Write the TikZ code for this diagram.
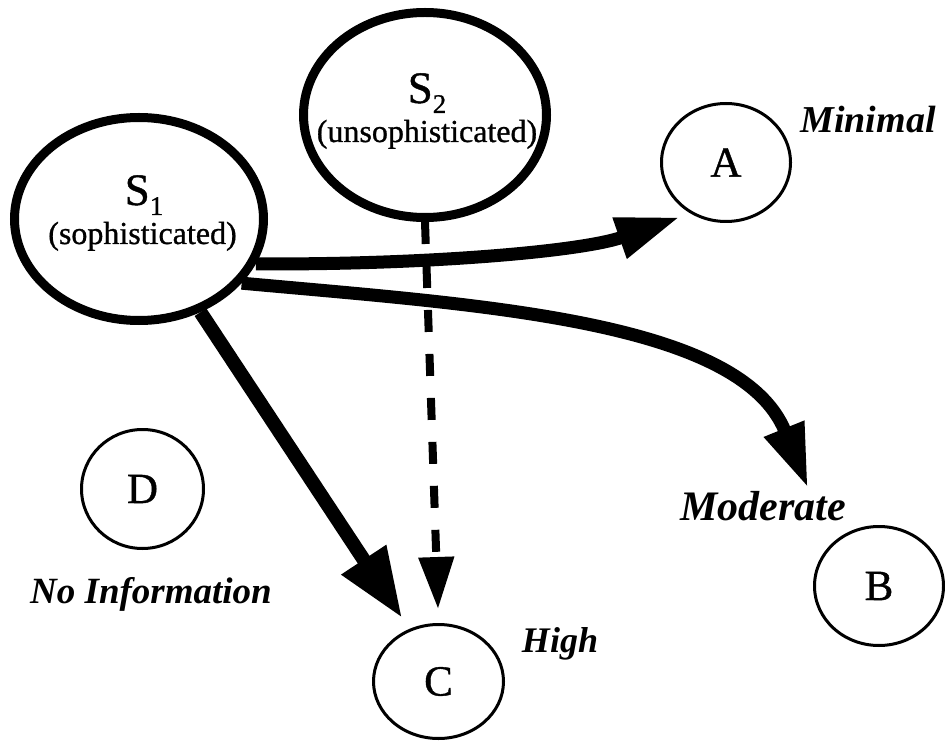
\documentclass[tikz,border=0pt]{standalone}
\usepackage{fontspec}
\setmainfont{Liberation Serif}
\newfontfamily\heavyserif[FakeBold=0.9]{Liberation Serif}
\usetikzlibrary{arrows.meta,shapes.geometric}
\begin{document}
\begin{tikzpicture}[x=1pt,y=-1pt,
  bigell/.style={draw,ellipse,line width=9pt,inner sep=0pt},
  smallell/.style={draw,ellipse,line width=3pt,inner sep=0pt,font=\heavyserif\fontsize{43}{43}\selectfont},
  txt/.style={anchor=base,inner sep=0pt,font=\heavyserif\fontsize{#1}{#1}\selectfont},
  lab/.style={anchor=base,inner sep=0pt,font=\fontsize{#1}{#1}\selectfont\bfseries\itshape},
  thickarrow/.style={line width=13pt,-{Triangle[length=64pt,width=40pt]}},
  heavyarrow/.style={line width=14pt,-{Triangle[length=70pt,width=50pt]}},
  dasharrow/.style={line width=8pt,dash pattern=on 22pt off 22pt,-{Triangle[length=52pt,width=34pt]}}
]
\useasboundingbox (0,0) rectangle (945,743);

% main ellipses
\node[bigell,minimum width=249pt,minimum height=203pt] (S1) at (139,219) {};
\node[bigell,minimum width=243pt,minimum height=205pt] (S2) at (425,115) {};

\node[txt=45] (S1a) at (144,205) {S\raisebox{-10pt}{\fontsize{27}{27}\selectfont 1}};
\node[txt=32] (S1b) at (142.5,244) {(sophisticated)};
\node[txt=45] (S2a) at (427,103) {S\raisebox{-10pt}{\fontsize{27}{27}\selectfont 2}};
\node[txt=32] (S2b) at (427,142) {(unsophisticated)};

% outcome circles
\node[smallell,minimum width=129pt,minimum height=118pt] (A) at (726,162.5) {A};
\node[smallell,minimum width=129pt,minimum height=119pt] (B) at (879,586) {B};
\node[smallell,minimum width=130pt,minimum height=114pt] (C) at (438.5,681.5) {C};
\node[smallell,minimum width=122pt,minimum height=119pt] (D) at (142.5,489) {D};

% labels
\node[lab=38] (minimal) at (868,133) {Minimal};
\node[lab=42] (moderate) at (763,520) {Moderate};
\node[lab=37] (noinfo) at (151,603) {No Information};
\node[lab=36] (high) at (560,652) {High};

% connectors
\coordinate (tipB) at (808,488);
\draw[thickarrow,shorten >=11pt] (S1.-21) .. controls (420,265) and (580,252) .. (A.-125);
\draw[thickarrow] (S1.-32) .. controls (480,305) and (740,320) .. (tipB);
\draw[heavyarrow,shorten >=13pt] (S1) -- (C.119);
\draw[dasharrow,shorten >=14pt] (S2.south) -- (C.north);
\end{tikzpicture}
\end{document}
